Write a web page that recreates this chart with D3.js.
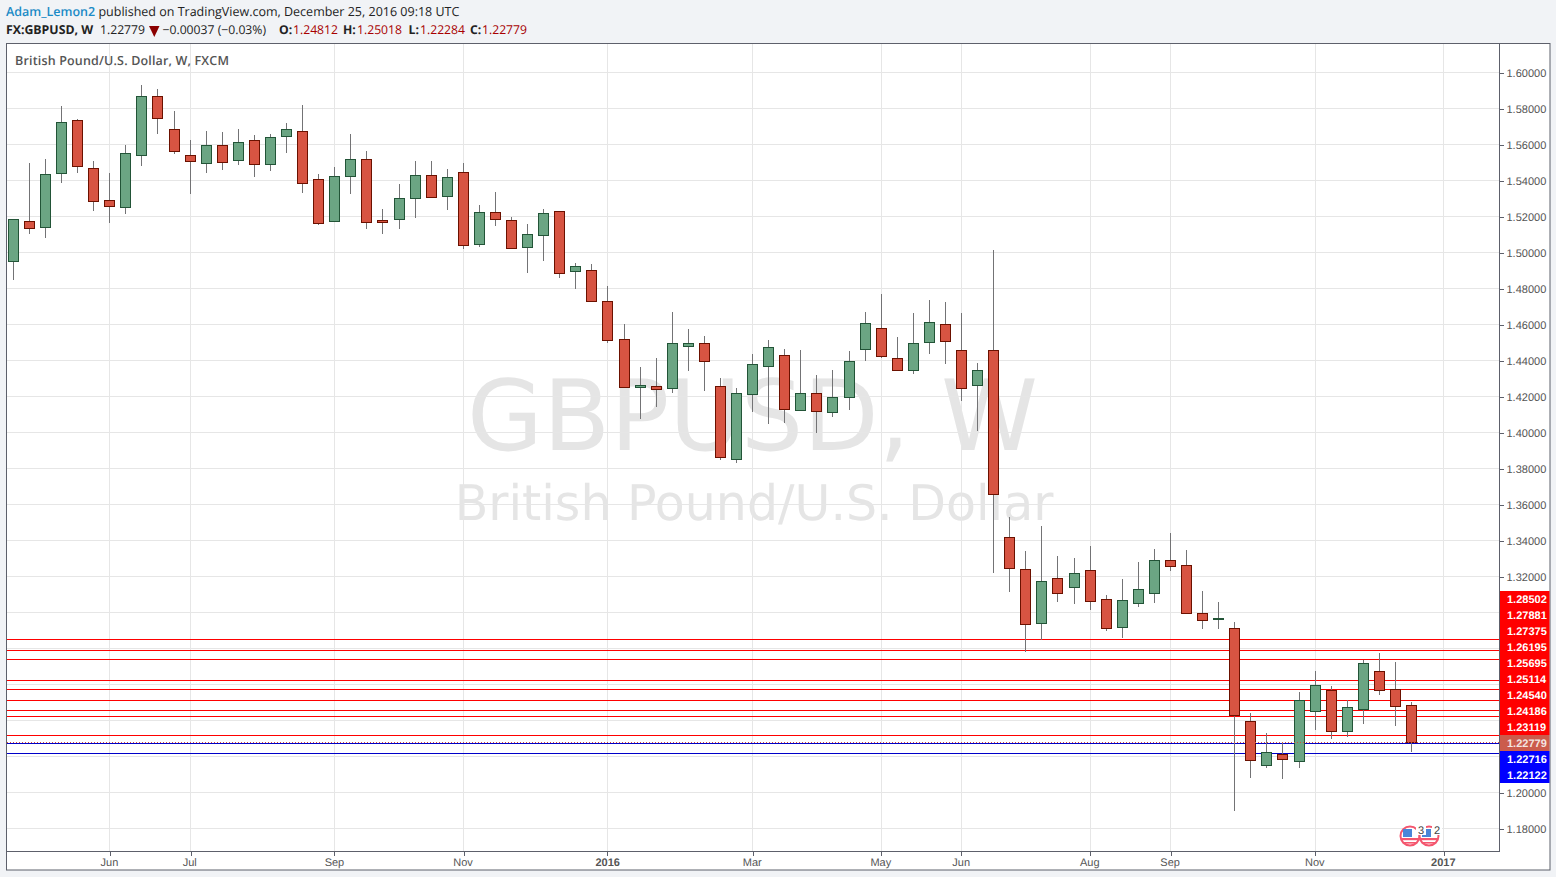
<!DOCTYPE html>
<html><head><meta charset="utf-8">
<script src="https://cdn.jsdelivr.net/npm/d3@7/dist/d3.min.js"></script>
<style>
html,body{margin:0;padding:0;background:#f1f3f6;overflow:hidden}
svg{display:block}
text{text-rendering:geometricPrecision}
</style></head><body>
<svg id="c" width="1556" height="877"></svg>
<script>
const opens=[1.4950,1.5172,1.5139,1.5439,1.5733,1.5467,1.5289,1.5250,1.5539,1.5867,1.5683,1.5539,1.5494,1.5594,1.5511,1.5622,1.5489,1.5644,1.5672,1.5406,1.5172,1.5422,1.5517,1.5178,1.5183,1.5300,1.5428,1.5311,1.5444,1.5044,1.5222,1.5178,1.5028,1.5094,1.5228,1.4894,1.4900,1.4728,1.4517,1.4250,1.4256,1.4244,1.4478,1.4494,1.4256,1.3850,1.4211,1.4367,1.4428,1.4122,1.4217,1.4111,1.4194,1.4461,1.4578,1.4411,1.4344,1.4500,1.4600,1.4456,1.4261,1.4456,1.3417,1.3239,1.2939,1.3189,1.3139,1.3233,1.3072,1.2917,1.3050,1.3106,1.3289,1.3261,1.2994,1.2961,1.2911,1.2394,1.2150,1.2211,1.2172,1.2450,1.2567,1.2339,1.2461,1.2672,1.2572,1.24812];
const highs=[1.5183,1.5494,1.5517,1.5811,1.5739,1.5506,1.5439,1.5594,1.5928,1.5906,1.5783,1.5622,1.5672,1.5667,1.5683,1.5650,1.5656,1.5717,1.5817,1.5433,1.5472,1.5656,1.5561,1.5239,1.5378,1.5506,1.5506,1.5461,1.5494,1.5261,1.5333,1.5194,1.5156,1.5239,1.5228,1.4939,1.4933,1.4811,1.4600,1.4361,1.4411,1.4667,1.4572,1.4533,1.4300,1.4244,1.4433,1.4511,1.4461,1.4456,1.4317,1.4344,1.4450,1.4667,1.4767,1.4528,1.4661,1.4733,1.4722,1.4661,1.4383,1.5011,1.3528,1.3339,1.3478,1.3311,1.3300,1.3367,1.3094,1.3183,1.3278,1.3350,1.3439,1.3344,1.3117,1.3056,1.2944,1.2439,1.2328,1.2272,1.2556,1.2672,1.2589,1.2511,1.2733,1.2772,1.2722,1.25018];
const lows=[1.4850,1.5106,1.5083,1.5389,1.5444,1.5233,1.5167,1.5217,1.5483,1.5661,1.5550,1.5328,1.5444,1.5461,1.5489,1.5422,1.5456,1.5556,1.5333,1.5156,1.5172,1.5328,1.5133,1.5106,1.5133,1.5194,1.5306,1.5239,1.5022,1.5033,1.5150,1.5022,1.4889,1.4956,1.4861,1.4800,1.4728,1.4500,1.4250,1.4078,1.4144,1.4222,1.4344,1.4233,1.3850,1.3833,1.4117,1.4050,1.4056,1.4122,1.4000,1.4089,1.4128,1.4400,1.4417,1.4344,1.4328,1.4439,1.4383,1.4178,1.4011,1.3222,1.3117,1.2783,1.2850,1.3061,1.3050,1.3017,1.2900,1.2861,1.3033,1.3056,1.3233,1.2994,1.2911,1.2911,1.1900,1.2083,1.2139,1.2078,1.2139,1.2350,1.2300,1.2311,1.2383,1.2544,1.2372,1.22284];
const closes=[1.5183,1.5133,1.5433,1.5722,1.5478,1.5283,1.5256,1.5550,1.5867,1.5744,1.5561,1.5506,1.5594,1.5500,1.5611,1.5489,1.5639,1.5683,1.5383,1.5161,1.5422,1.5517,1.5167,1.5167,1.5300,1.5428,1.5306,1.5417,1.5039,1.5222,1.5183,1.5022,1.5100,1.5217,1.4883,1.4922,1.4728,1.4511,1.4250,1.4261,1.4239,1.4494,1.4494,1.4394,1.3861,1.4217,1.4378,1.4472,1.4128,1.4217,1.4117,1.4194,1.4394,1.4606,1.4422,1.4344,1.4494,1.4611,1.4506,1.4244,1.4344,1.3656,1.3244,1.2933,1.3172,1.3106,1.3217,1.3061,1.2911,1.3067,1.3128,1.3289,1.3256,1.2994,1.2956,1.2967,1.2428,1.2178,1.2222,1.2183,1.2511,1.2594,1.2339,1.2472,1.2717,1.2567,1.2478,1.22779];
const priceTicks=[1.60,1.58,1.56,1.54,1.52,1.50,1.48,1.46,1.44,1.42,1.40,1.38,1.36,1.34,1.32,1.30,1.28,1.26,1.24,1.22,1.20,1.18];
const axisTickValues=[1.60,1.58,1.56,1.54,1.52,1.50,1.48,1.46,1.44,1.42,1.40,1.38,1.36,1.34,1.32,1.20,1.18];
const timeIdx=[6,11,20,28,37,46,54,59,67,72,81,89];
const timeLabels=["Jun","Jul","Sep","Nov","2016","Mar","May","Jun","Aug","Sep","Nov","2017"];
const redLevels=[1.28502,1.27881,1.27375,1.26195,1.25695,1.25114,1.24540,1.24186,1.23119];
const blueLevels=[1.22716,1.22122];
const lastPrice=1.22779;
const title="British Pound/U.S. Dollar, W, FXCM";

const L=6.5,R=1499.5,T=43.5,B=851.5;
const svg=d3.select("#c");
const yS=d3.scaleLinear().domain([1.60,1.18]).range([72.5,828.5]);
const xS=d3.scaleLinear().domain([0,87]).range([13.3,1411.5]);
const crisp=v=>Math.floor(v)+.5;
const sy=v=>crisp(yS(v));
const ly=v=>crisp(yS(v)-.42);
const sx=i=>crisp(xS(i));
const AX="'Liberation Sans',Arial,sans-serif", HD="'Open Sans',sans-serif";

svg.append("rect").attr("x",L).attr("y",T).attr("width",1550-L).attr("height",870-T).attr("fill","#fff").attr("stroke","#5d606b");

// watermark
svg.append("text").attr("x",752.5).attr("y",450).attr("text-anchor","middle")
 .attr("font-family","'DejaVu Sans'").attr("font-size",98).attr("fill","#e5e5e5").text("GBPUSD, W");
svg.append("text").attr("x",754).attr("y",520).attr("text-anchor","middle")
 .attr("font-family","'DejaVu Sans'").attr("font-size",49).attr("fill","#e5e5e5").text("British Pound/U.S. Dollar");

// grid
const g=svg.append("g").attr("stroke","#e6e6e6").attr("shape-rendering","crispEdges");
g.selectAll("line.h").data(priceTicks).join("line").attr("x1",L).attr("x2",R).attr("y1",sy).attr("y2",sy);
g.selectAll("line.v").data(timeIdx).join("line").attr("x1",sx).attr("x2",sx).attr("y1",T).attr("y2",B);

// levels
const lv=svg.append("g").attr("shape-rendering","crispEdges");
lv.selectAll("line.r").data(redLevels).join("line").attr("x1",L).attr("x2",R).attr("y1",ly).attr("y2",ly).attr("stroke","#ff0000");
lv.selectAll("line.b").data(blueLevels).join("line").attr("x1",L).attr("x2",R).attr("y1",ly).attr("y2",ly).attr("stroke","#0000c8");

// candles
const idx=d3.range(opens.length);
const cg=svg.append("g").attr("shape-rendering","crispEdges");
cg.selectAll("line").data(idx).join("line").attr("x1",sx).attr("x2",sx)
 .attr("y1",i=>yS(highs[i])-.5).attr("y2",i=>yS(lows[i])+.5).attr("stroke","#737375");
cg.selectAll("rect").data(idx).join("rect")
 .attr("x",i=>sx(i)-5).attr("width",10)
 .attr("y",i=>sy(Math.max(opens[i],closes[i])))
 .attr("height",i=>Math.max(1,sy(Math.min(opens[i],closes[i]))-sy(Math.max(opens[i],closes[i]))))
 .attr("fill",i=>closes[i]>=opens[i]?"#6ba583":"#d75442")
 .attr("stroke",i=>closes[i]>=opens[i]?"#225437":"#6b1100");

// last price dotted
svg.append("line").attr("x1",L).attr("x2",R).attr("y1",ly(lastPrice)).attr("y2",ly(lastPrice))
 .attr("stroke","#d0503f").attr("stroke-dasharray","1 2").attr("shape-rendering","crispEdges");

// axes
const xAxis=d3.axisBottom(xS).tickValues(timeIdx).tickSize(4).tickPadding(3)
 .tickFormat(i=>timeLabels[timeIdx.indexOf(i)]);
const gx=svg.append("g").attr("transform",`translate(0,${B})`).call(xAxis);
gx.select(".domain").remove();
gx.selectAll("line").attr("stroke","#5d606b").attr("shape-rendering","crispEdges").attr("x1",i=>sx(i)-xS(i)).attr("x2",i=>sx(i)-xS(i));
gx.selectAll("text").attr("font-family",AX).attr("font-size",11).attr("fill","#555").attr("dx",-.8)
 .attr("font-weight",(d,i)=>/^\d/.test(timeLabels[i])?"bold":"normal");
svg.append("line").attr("x1",L).attr("x2",R).attr("y1",B).attr("y2",B).attr("stroke","#5d606b").attr("shape-rendering","crispEdges");
svg.append("line").attr("x1",R).attr("x2",R).attr("y1",T).attr("y2",B).attr("stroke","#5d606b").attr("shape-rendering","crispEdges");

const yAxis=d3.axisRight(yS).tickValues(axisTickValues).tickSize(4).tickPadding(3).tickFormat(d3.format(".5f"));
const gy=svg.append("g").attr("transform",`translate(${R},0)`).call(yAxis);
gy.select(".domain").remove();
gy.selectAll("line").attr("stroke","#5d606b").attr("shape-rendering","crispEdges").attr("transform",d=>`translate(0,${sy(d)-yS(d)})`);
gy.selectAll("text").attr("font-family",AX).attr("font-size",11).attr("fill","#555");

// stacked price labels
const stack=[...redLevels.map(v=>({v,c:"#ff0000",t:"#fff"})),{v:lastPrice,c:"#cb5c4c",t:"#f4e6e2"},...blueLevels.map(v=>({v,c:"#0000ff",t:"#fff"}))];
const anchorY=743, anchorI=redLevels.length;
const pl=svg.append("g").selectAll("g").data(stack).join("g")
 .attr("transform",(d,i)=>`translate(${R+.5},${anchorY+(i-anchorI)*16})`);
pl.append("rect").attr("x",0).attr("y",-8).attr("width",49.5).attr("height",16).attr("fill",d=>d.c);
pl.append("text").attr("x",7).attr("y",4).attr("font-family",AX).attr("font-size",11).attr("font-weight","bold")
 .attr("fill",d=>d.t).text(d=>d3.format(".5f")(d.v));

// legend
svg.append("text").attr("x",15).attr("y",65).attr("font-family",HD).attr("font-weight",600).attr("font-size",12.5)
 .attr("letter-spacing",.17).attr("fill","#555").text(title);

// header
const h1=svg.append("text").attr("x",6).attr("y",16).attr("font-family",HD).attr("font-size",12.5).attr("fill","#222");
h1.append("tspan").attr("font-weight",600).attr("fill","#1c8bc6").text("Adam_Lemon2");
h1.append("tspan").text(" published on TradingView.com, December 25, 2016 09:18 UTC");
const red="#a80000";
const header2=[[6,"FX:GBPUSD, W",700,"#222",12.3],[100,"1.22779",400,"#222",12.2],[162.5,"\u22120.00037 (\u22120.03%)",400,"#222",12.2],
 [279,"O:",700,"#222",12.2],[293,"1.24812",400,red,12.2],[343,"H:",700,"#222",12.2],[357,"1.25018",400,red,12.2],
 [408.6,"L:",700,"#222",12.2],[420,"1.22284",400,red,12.2],[470,"C:",700,"#222",12.2],[482,"1.22779",400,red,12.2]];
svg.append("g").selectAll("text").data(header2).join("text")
 .attr("x",d=>d[0]).attr("y",34).attr("font-family",HD).attr("font-weight",d=>d[2]).attr("fill",d=>d[3]).attr("font-size",d=>d[4]).text(d=>d[1]);
svg.append("path").attr("d","M149 26H159.5L154.3 37Z").attr("fill","#8b0000");

// earnings flags
function flag(cx){
 const f=svg.append("g");
 f.append("circle").attr("cx",cx).attr("cy",836).attr("r",9.5).attr("fill","#fff").attr("stroke","#f4566e").attr("stroke-width",2);
 f.append("rect").attr("x",cx-7).attr("y",829).attr("width",9).attr("height",8).attr("fill","#4a86d8");
 f.append("rect").attr("x",cx-8.5).attr("y",838).attr("width",17).attr("height",2.2).attr("fill","#f4566e");
 f.append("rect").attr("x",cx-6).attr("y",842).attr("width",12).attr("height",1.6).attr("fill","#f4566e");
}
flag(1410);flag(1429);
[[1421,"3"],[1437,"2"]].forEach(([x,t])=>{
 svg.append("rect").attr("x",x-5).attr("y",824).attr("width",10).attr("height",11).attr("fill","#fff");
 svg.append("text").attr("x",x).attr("y",834).attr("text-anchor","middle").attr("font-family",AX).attr("font-size",11).attr("fill","#444").text(t);
});
</script></body></html>
